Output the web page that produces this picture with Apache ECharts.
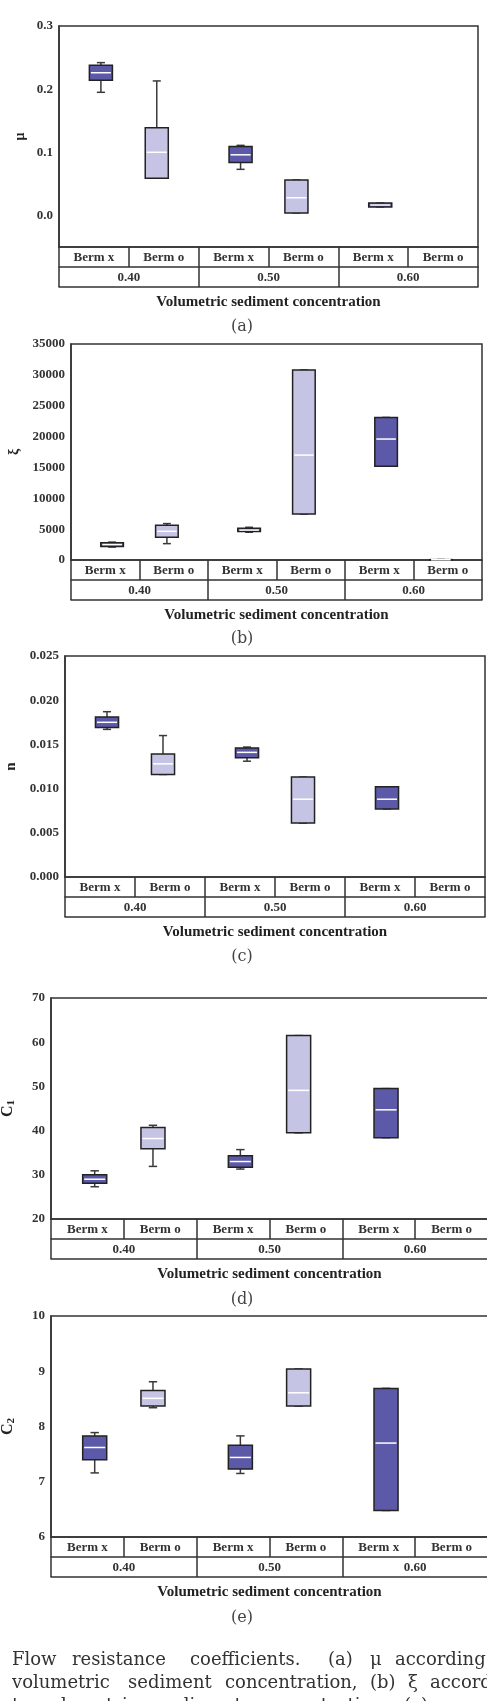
<!DOCTYPE html>
<html>
<head>
<meta charset="utf-8">
<script src="https://cdn.jsdelivr.net/npm/echarts@6.0.0/dist/echarts.min.js"></script>
<style>
  html, body { margin: 0; padding: 0; background: #fff; }
  #main { width: 487px; height: 1701px; }
</style>
</head>
<body>
<div id="main"></div>
<script>
var concentrations = ['0.40', '0.50', '0.60'];
var bermNames = ['Berm x', 'Berm o'];

// one box per concentration: [lower whisker, Q1, median, Q3, upper whisker]
var muBermX = [[0.195, 0.214, 0.226, 0.238, 0.242], [0.073, 0.084, 0.096, 0.109, 0.111], [0.0135, 0.0135, 0.0165, 0.0195, 0.0195]];
var muBermO = [[0.059, 0.059, 0.100, 0.139, 0.213], [0.004, 0.004, 0.028, 0.056, 0.056], null];
var xiBermX = [[2100, 2200, 2500, 2800, 2900], [4500, 4600, 4850, 5150, 5300], [15200, 15200, 19600, 23100, 23100]];
var xiBermO = [[2650, 3700, 4650, 5650, 5900], [7450, 7450, 17000, 30800, 30800], [0, 20, 40, 60, 80]];
var nBermX = [[0.0167, 0.0169, 0.0175, 0.0181, 0.0187], [0.0131, 0.0135, 0.0141, 0.0146, 0.0147], [0.0077, 0.0077, 0.0088, 0.0102, 0.0102]];
var nBermO = [[0.0116, 0.0116, 0.0128, 0.0139, 0.0160], [0.0061, 0.0061, 0.0088, 0.0113, 0.0113], null];
var c1BermX = [[27.3, 28.1, 29.0, 30.0, 30.9], [31.3, 31.7, 33.0, 34.3, 35.7], [38.4, 38.4, 44.7, 49.5, 49.5]];
var c1BermO = [[31.9, 35.9, 38.2, 40.7, 41.2], [39.5, 39.5, 49.1, 61.5, 61.5], null];
var c2BermX = [[7.16, 7.40, 7.62, 7.83, 7.89], [7.15, 7.23, 7.44, 7.66, 7.83], [6.48, 6.48, 7.70, 8.69, 8.69]];
var c2BermO = [[8.34, 8.37, 8.51, 8.65, 8.81], [8.37, 8.37, 8.61, 9.04, 9.04], null];

var muTicks = [0, 0.1, 0.2, 0.3];

var LINE = '#333';
var FILL_X = '#5d59a9';
var FILL_O = '#c6c4e4';
var SERIF = '"Liberation Serif", "Times New Roman", serif';
var BOOK = '"DejaVu Serif", serif';

var panels = [
  { name: 'μ', bx: muBermX, bo: muBermO, min: -0.05, max: 0.3, ticks: muTicks, digits: 1,
    left: 59, top: 26, width: 419, height: 221, nameGap: 32, nameSize: 14, tag: '(a)', tagY: 327 },
  { name: 'ξ', bx: xiBermX, bo: xiBermO, min: 0, max: 35000, interval: 5000, digits: 0,
    left: 71, top: 344, width: 411, height: 216, nameGap: 50, nameSize: 14, tag: '(b)', tagY: 639 },
  { name: 'n', bx: nBermX, bo: nBermO, min: 0, max: 0.025, interval: 0.005, digits: 3,
    left: 65, top: 656, width: 420, height: 221, nameGap: 46, nameSize: 15, tag: '(c)', tagY: 957 },
  { name: 'C{s|1}', bx: c1BermX, bo: c1BermO, min: 20, max: 70, interval: 10, digits: 0,
    left: 51, top: 998, width: 437, height: 221, nameGap: 34, nameSize: 16, tag: '(d)', tagY: 1300 },
  { name: 'C{s|2}', bx: c2BermX, bo: c2BermO, min: 6, max: 10, interval: 1, digits: 0,
    left: 51, top: 1316, width: 437, height: 221, nameGap: 34, nameSize: 16, tag: '(e)', tagY: 1618 }
];

function renderBox(params, api) {
  var cat = api.value(0), side = api.value(1);
  var band = api.size([1, 0])[0];
  var cx = api.coord([cat, 0])[0] + (side ? 0.2 : -0.2) * band;
  var half = band * 0.165 / 2, cap = half * 0.35;
  var y = [2, 3, 4, 5, 6].map(function (d) { return api.coord([cat, api.value(d)])[1]; });
  var wStyle = { stroke: '#3a3a3a', lineWidth: 1.5 };
  return {
    type: 'group',
    children: [
      { type: 'line', shape: { x1: cx, y1: y[4], x2: cx, y2: y[3] }, style: wStyle },
      { type: 'line', shape: { x1: cx, y1: y[0], x2: cx, y2: y[1] }, style: wStyle },
      { type: 'line', shape: { x1: cx - cap, y1: y[4], x2: cx + cap, y2: y[4] }, style: wStyle },
      { type: 'line', shape: { x1: cx - cap, y1: y[0], x2: cx + cap, y2: y[0] }, style: wStyle },
      { type: 'rect', shape: { x: cx - half, y: y[3], width: half * 2, height: y[1] - y[3] },
        style: { fill: side ? FILL_O : FILL_X, stroke: '#222', lineWidth: 1.5 } },
      { type: 'line', shape: { x1: cx - half + 1.5, y1: y[2], x2: cx + half - 1.5, y2: y[2] },
        style: { stroke: '#fff', lineWidth: 1.5 } }
    ]
  };
}

function boxData(bx, bo) {
  var out = [];
  concentrations.forEach(function (c, i) {
    if (bx[i]) out.push([i, 0].concat(bx[i]));
    if (bo[i]) out.push([i, 1].concat(bo[i]));
  });
  return out;
}

var bermRow = [];
concentrations.forEach(function () { bermRow.push(bermNames[0], bermNames[1]); });

var lineStyle = { color: LINE, width: 1.5 };
var tickFont = { fontFamily: SERIF, fontWeight: 'bold', fontSize: 13, color: '#333' };

var grids = [], xAxes = [], yAxes = [], series = [], graphics = [];

panels.forEach(function (p, i) {
  grids.push({
    left: p.left, top: p.top, width: p.width, height: p.height,
    show: true, borderColor: LINE, borderWidth: 1.5, outerBoundsMode: 'none', containLabel: false
  });
  xAxes.push({
    gridIndex: i, type: 'category', data: bermRow, position: 'bottom', offset: 0,
    axisLine: { onZero: false, lineStyle: lineStyle },
    axisTick: { show: true, length: 20, interval: 0, lineStyle: lineStyle },
    axisLabel: Object.assign({ interval: 0, margin: 4 }, tickFont),
    splitLine: { show: false }
  });
  xAxes.push({
    gridIndex: i, type: 'category', data: concentrations, position: 'bottom', offset: 20,
    axisLine: { onZero: false, lineStyle: lineStyle },
    axisTick: { show: true, length: 20, interval: 0, lineStyle: lineStyle },
    axisLabel: Object.assign({ interval: 0, margin: 4 }, tickFont),
    splitLine: { show: false }
  });
  xAxes.push({
    gridIndex: i, type: 'category', data: concentrations, position: 'bottom', offset: 40,
    axisLine: { onZero: false, lineStyle: lineStyle },
    axisTick: { show: false }, axisLabel: { show: false },
    name: 'Volumetric sediment concentration', nameLocation: 'middle', nameGap: 8,
    nameTextStyle: { fontFamily: SERIF, fontWeight: 'bold', fontSize: 15, color: '#222' }
  });
  var yAxis = {
    gridIndex: i, type: 'value', min: p.min, max: p.max,
    axisLine: { show: true, onZero: false, lineStyle: lineStyle },
    axisTick: { show: false },
    splitLine: { show: false },
    axisLabel: Object.assign({
      margin: 6,
      formatter: function (v) { return v.toFixed(p.digits); }
    }, tickFont),
    name: p.name, nameLocation: 'middle', nameRotate: 90, nameGap: p.nameGap, nameMoveOverlap: false,
    nameTextStyle: {
      fontFamily: SERIF, fontWeight: 'bold', fontSize: p.nameSize, color: '#222',
      rich: { s: { fontFamily: SERIF, fontWeight: 'bold', fontSize: 11, color: '#222', verticalAlign: 'bottom', padding: [8, 0, 0, 0] } }
    }
  };
  if (p.ticks) {
    yAxis.interval = 0.05;
    yAxis.axisLabel.customValues = p.ticks;
  } else {
    yAxis.interval = p.interval;
  }
  yAxes.push(yAxis);
  series.push({
    type: 'custom', xAxisIndex: i * 3 + 1, yAxisIndex: i,
    renderItem: renderBox, clip: false,
    encode: { x: 0, y: [2, 3, 4, 5, 6] },
    data: boxData(p.bx, p.bo)
  });
  graphics.push({
    type: 'text', x: 242, y: p.tagY,
    style: { text: p.tag, font: '16px ' + BOOK, fill: '#444', align: 'center', verticalAlign: 'middle' }
  });
});

// caption, words laid out as justified in the source
var captionLines = [
  { y: 1660, words: [['Flow', 12], ['resistance', 72], ['coefficients.', 190], ['(a)', 328], ['μ', 370], ['according', 395]] },
  { y: 1683, words: [['volumetric', 12], ['sediment', 128], ['concentration,', 225], ['(b)', 370], ['ξ', 408], ['according', 430]] },
  { y: 1706, words: [['to', 12], ['volumetric', 40], ['sediment', 158], ['concentration,', 256], ['(c)', 404], ['n', 444], ['according', 464]] }
];
captionLines.forEach(function (ln) {
  ln.words.forEach(function (w) {
    graphics.push({
      type: 'text', x: w[1], y: ln.y,
      style: { text: w[0], font: '18px ' + BOOK, fill: '#333', align: 'left', verticalAlign: 'middle' }
    });
  });
});

var chart = echarts.init(document.getElementById('main'), null, { renderer: 'canvas' });
chart.setOption({
  animation: false,
  backgroundColor: '#fff',
  grid: grids,
  xAxis: xAxes,
  yAxis: yAxes,
  series: series,
  graphic: graphics
});
</script>
</body>
</html>
